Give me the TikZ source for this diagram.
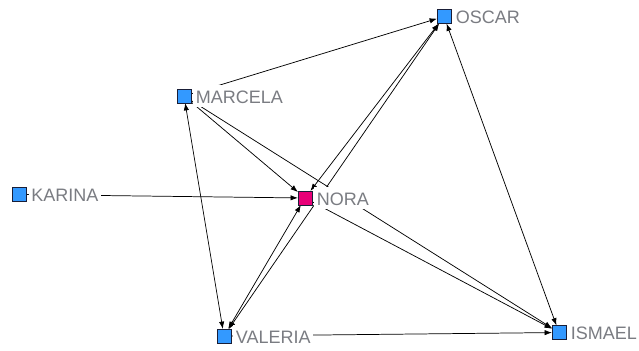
\documentclass[tikz,border=0pt]{standalone}
\usepackage{fontspec}
\setmainfont{Liberation Sans}
\usetikzlibrary{arrows.meta}
\pgfdeclarelayer{edges}
\pgfsetlayers{edges,main}
\definecolor{actorblue}{RGB}{51,153,255}
\definecolor{egopink}{RGB}{232,0,120}
\definecolor{labelgray}{RGB}{122,124,130}
\definecolor{squareedge}{RGB}{25,30,55}
\tikzset{
  actor/.style={draw=squareedge, line width=0.6pt, fill=actorblue,
    minimum size=10.6pt, inner sep=0pt, outer sep=0pt},
  ego/.style={actor, fill=egopink},
  tag/.style={fill=white, text=labelgray, font=\fontsize{13.5}{16}\selectfont,
    anchor=west, inner xsep=1.9pt, inner ysep=0.3pt,
    text height=13.5pt, text depth=2.5pt, xshift=1.5pt},
  tip/.tip={Latex[length=5.5pt,width=4pt]},
  tie/.style={draw=black, line width=0.55pt, -tip},
  mutual/.style={draw=black, line width=0.55pt, tip-tip},
}
\begin{document}
\begin{tikzpicture}[x=0.75pt, y=-0.75pt]
  \useasboundingbox (0,0) rectangle (639,350);

  % actors
  \node[actor] (karina)  at (19.5,194.5) {};
  \node[actor] (marcela) at (184,96) {};
  \node[ego]   (nora)    at (305,198) {};
  \node[actor] (oscar)   at (444,16.5) {};
  \node[actor] (ismael)  at (559,332.5) {};
  \node[actor] (valeria) at (224,336) {};

  % names
  \node[tag] (karina-name)  at (karina.east)  {KARINA};
  \node[tag] (marcela-name) at (marcela.east) {MARCELA};
  \node[tag] (nora-name)    at (nora.east)    {NORA};
  \node[tag] (oscar-name)   at (oscar.east)   {OSCAR};
  \node[tag] (ismael-name)  at (ismael.east)  {ISMAEL};
  \node[tag] (valeria-name) at (valeria.east) {VALERIA};

  % ties, drawn beneath the names
  \begin{pgfonlayer}{edges}
    \draw[tie]    (karina)  -- (nora);
    \draw[tie]    (marcela) -- (oscar);
    \draw[mutual] (marcela) -- (valeria);
    \draw[tie]    (marcela) -- (nora);
    \draw[tie]    (marcela) -- (ismael);
    \draw[mutual] (nora)    -- (oscar);
    \draw[mutual] (valeria) -- (oscar);
    \draw[mutual] (nora)    -- (valeria);
    \draw[tie]    (nora)    -- (ismael);
    \draw[tie]    (valeria) -- (ismael);
    \draw[mutual] (oscar)   -- (ismael);
  \end{pgfonlayer}
\end{tikzpicture}
\end{document}
